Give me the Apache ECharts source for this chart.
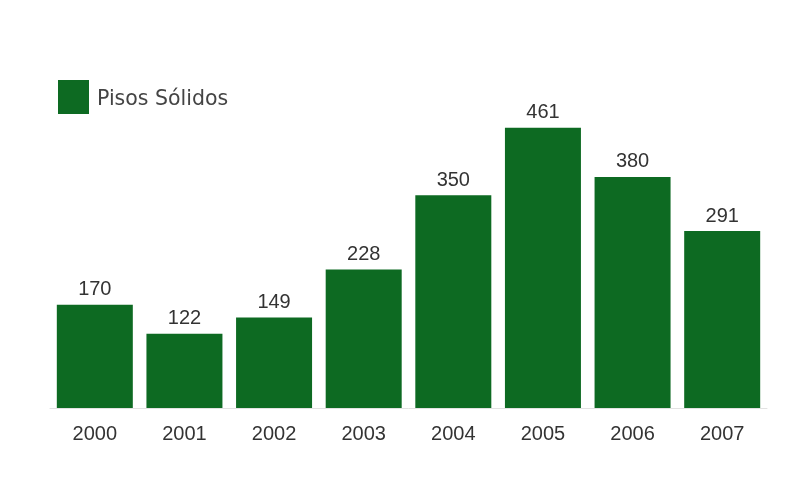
<!DOCTYPE html>
<html>
<head>
<meta charset="utf-8">
<script src="https://cdn.jsdelivr.net/npm/echarts@6/dist/echarts.min.js"></script>
<style>
  html, body { margin: 0; padding: 0; background: #fff; }
  #chart { width: 791px; height: 489px; }
</style>
</head>
<body>
<div id="chart"></div>
<script>
const years = ['2000', '2001', '2002', '2003', '2004', '2005', '2006', '2007'];
const pisosSolidos = [170, 122, 149, 228, 350, 461, 380, 291];
const seriesName = 'Pisos Sólidos';
const barColor = '#0d6a22';

const chart = echarts.init(document.getElementById('chart'));
chart.setOption({
  backgroundColor: '#ffffff',
  animation: false,
  legend: {
    left: 58,
    top: 80,
    padding: 0,
    itemWidth: 31,
    itemHeight: 34,
    itemGap: 10,
    icon: 'rect',
    formatter: '{t|{name}}',
    textStyle: {
      fontFamily: 'DejaVu Sans', fontSize: 20.5, color: '#444',
      rich: { t: { fontFamily: 'DejaVu Sans', fontSize: 20.5, color: '#444', padding: [6, 0, 0, 3] } }
    },
    data: [seriesName]
  },
  grid: { left: 50, top: 104, width: 717, height: 304 },
  xAxis: {
    type: 'category',
    data: years,
    axisTick: { show: false },
    axisLine: { show: true, lineStyle: { color: '#e2e2e2', width: 1 } },
    axisLabel: { fontFamily: 'Liberation Sans', fontSize: 20, color: '#333', margin: 16 }
  },
  yAxis: {
    type: 'value',
    min: 0,
    max: 500,
    show: false,
    splitLine: { show: false }
  },
  series: [{
    name: seriesName,
    type: 'bar',
    data: pisosSolidos,
    barWidth: 76,
    itemStyle: { color: barColor },
    label: {
      show: true,
      position: 'top',
      distance: 5,
      fontFamily: 'Liberation Sans',
      fontSize: 20,
      color: '#333'
    }
  }]
});
</script>
</body>
</html>
